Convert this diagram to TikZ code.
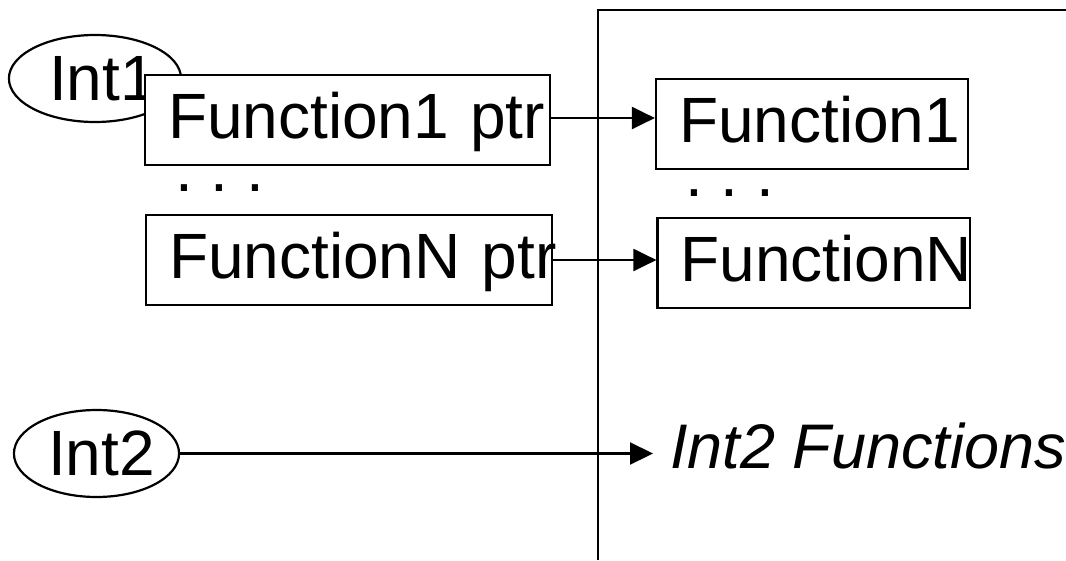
\documentclass[tikz,border=0pt]{standalone}
\usepackage{fontspec}
\setmainfont{Liberation Sans}
\usetikzlibrary{arrows.meta,shapes.geometric}

\tikzset{
  big/.style={font=\fontsize{64}{70}\selectfont},
  intell/.style={ellipse, draw, line width=2.2pt, inner sep=0pt,
                 minimum width=163pt, minimum height=87pt, big},
  fbox/.style={rectangle, draw, fill=white, line width=2.2pt,
               minimum height=90pt, inner ysep=0pt, inner xsep=23pt,
               text height=63pt, text depth=27pt, align=left, big},
  dotrow/.style={anchor=base west, inner sep=0pt, big},
  arr/.style={line width=2.2pt, -{Triangle[length=23pt,width=22pt]}},
  frameline/.style={line width=2.2pt},
}

\begin{document}
\begin{tikzpicture}[x=1pt,y=-1pt]
  \useasboundingbox (0,0) rectangle (1066,560);

  % address-space boundary
  \coordinate (frbot) at (598,560);
  \coordinate (frtop) at (598,10);
  \coordinate (frright) at (1066,10);
  \draw[frameline] (frbot) -- (frtop) -- (frright);

  % interface 1 and its table of function pointers
  \node[intell] (int1) at (95,78.5) {\hspace*{15pt}Int1};
  \node[fbox, text width=359pt] (ptr1) at (347.5,120) {\mbox{Function1 ptr}};
  \node[dotrow] (ldots) at (175,191) {.\ .\ .};
  \node[fbox, text width=360pt] (ptrn) at (349,260) {\mbox{FunctionN ptr}};

  % implementations
  \node[fbox, text width=266pt] (fun1) at (812,124) {\mbox{Function1}};
  \node[dotrow] (rdots) at (685,196) {.\ .\ .};
  \node[fbox, text width=266.5pt] (funn) at (813.75,263) {\mbox{FunctionN}};

  % interface 2
  \node[intell] (int2) at (96.5,453.5) {\hspace*{10pt}Int2};
  \node[anchor=base west, inner xsep=17pt, inner ysep=0pt,
        font=\fontsize{63}{70}\selectfont\itshape]
    (int2fun) at (653,468) {Int2 Functions};

  % pointers into the implementations
  \draw[arr] ([yshift=2pt]ptr1.east) -- ([yshift=2pt]ptr1.east -| fun1.west);
  \draw[arr] (ptrn.east) -- (ptrn.east -| funn.west);
  \draw[arr] (int2.east) -- (int2.east -| int2fun.west);
\end{tikzpicture}
\end{document}
